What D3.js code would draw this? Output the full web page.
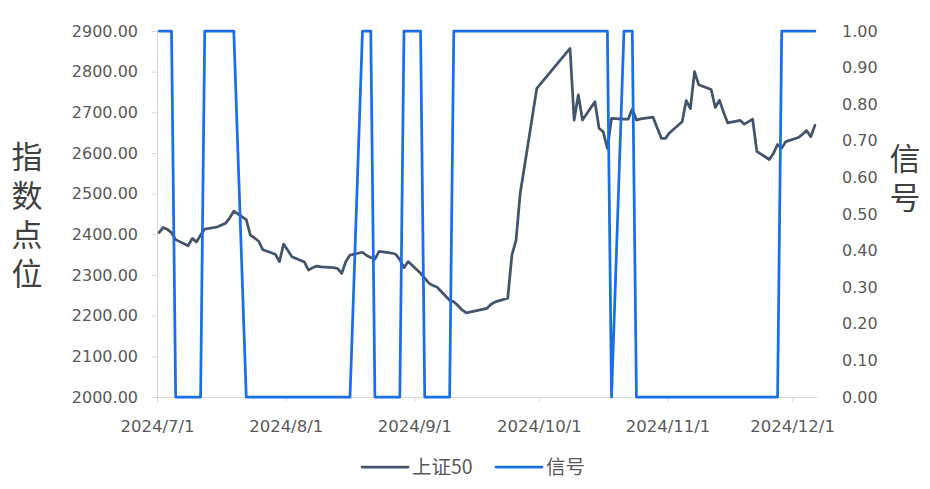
<!DOCTYPE html>
<html>
<head>
<meta charset="utf-8">
<script src="https://cdn.jsdelivr.net/npm/d3@7/dist/d3.min.js"></script>
<style>
  html, body { margin: 0; padding: 0; background: #ffffff; }
  svg { display: block; }
</style>
</head>
<body>
<svg id="chart" width="930" height="489"></svg>
<script>
// ---------- DATA ----------
const tradeDates = [
  "2024-07-01","2024-07-02","2024-07-03","2024-07-04","2024-07-05",
  "2024-07-08","2024-07-09","2024-07-10","2024-07-11","2024-07-12",
  "2024-07-15","2024-07-16","2024-07-17","2024-07-18","2024-07-19",
  "2024-07-22","2024-07-23","2024-07-24","2024-07-25","2024-07-26",
  "2024-07-29","2024-07-30","2024-07-31","2024-08-01","2024-08-02",
  "2024-08-05","2024-08-06","2024-08-07","2024-08-08","2024-08-09",
  "2024-08-12","2024-08-13","2024-08-14","2024-08-15","2024-08-16",
  "2024-08-19","2024-08-20","2024-08-21","2024-08-22","2024-08-23",
  "2024-08-26","2024-08-27","2024-08-28","2024-08-29","2024-08-30",
  "2024-09-02","2024-09-03","2024-09-04","2024-09-05","2024-09-06",
  "2024-09-09","2024-09-10","2024-09-11","2024-09-12","2024-09-13",
  "2024-09-18","2024-09-19","2024-09-20",
  "2024-09-23","2024-09-24","2024-09-25","2024-09-26","2024-09-27",
  "2024-09-30",
  "2024-10-08","2024-10-09","2024-10-10","2024-10-11",
  "2024-10-14","2024-10-15","2024-10-16","2024-10-17","2024-10-18",
  "2024-10-21","2024-10-22","2024-10-23","2024-10-24","2024-10-25",
  "2024-10-28","2024-10-29","2024-10-30","2024-10-31","2024-11-01",
  "2024-11-04","2024-11-05","2024-11-06","2024-11-07","2024-11-08",
  "2024-11-11","2024-11-12","2024-11-13","2024-11-14","2024-11-15",
  "2024-11-18","2024-11-19","2024-11-20","2024-11-21","2024-11-22",
  "2024-11-25","2024-11-26","2024-11-27","2024-11-28","2024-11-29",
  "2024-12-02","2024-12-03","2024-12-04","2024-12-05","2024-12-06"
];

const sz50Values = [
  2404, 2417, 2412, 2404, 2387,
  2372, 2390, 2381, 2398, 2413,
  2418, 2423, 2427, 2440, 2457,
  2436, 2398, 2391, 2383, 2362,
  2351, 2333, 2376, 2361, 2345,
  2332, 2312, 2318, 2322, 2320,
  2318, 2316, 2304, 2333, 2349,
  2356, 2348, 2343, 2339, 2358,
  2354, 2351, 2338, 2318, 2333,
  2304, 2292, 2280, 2274, 2270,
  2238, 2234, 2225, 2214, 2207,
  2218, 2228, 2234,
  2243, 2349, 2386, 2501, 2565,
  2759,
  2857, 2681, 2743, 2681,
  2726, 2661, 2652, 2611, 2685,
  2683, 2683, 2708, 2681, 2684,
  2688, 2662, 2636, 2636, 2650,
  2677, 2729, 2709, 2800, 2768,
  2756, 2712, 2730, 2700, 2674,
  2680, 2671, 2677, 2683, 2604,
  2584, 2599, 2621, 2612, 2628,
  2638, 2646, 2655, 2640, 2668
];

const signalValues = [
  1, 1, 1, 1, 0,
  0, 0, 0, 0, 1,
  1, 1, 1, 1, 1,
  0, 0, 0, 0, 0,
  0, 0, 0, 0, 0,
  0, 0, 0, 0, 0,
  0, 0, 0, 0, 0,
  1, 1, 1, 0, 0,
  0, 0, 0, 1, 1,
  1, 0, 0, 0, 0,
  0, 1, 1, 1, 1,
  1, 1, 1,
  1, 1, 1, 1, 1,
  1,
  1, 1, 1, 1,
  1, 1, 1, 1, 0,
  1, 1, 1, 0, 0,
  0, 0, 0, 0, 0,
  0, 0, 0, 0, 0,
  0, 0, 0, 0, 0,
  0, 0, 0, 0, 0,
  0, 0, 0, 1, 1,
  1, 1, 1, 1, 1
];

const leftTicks = [2000, 2100, 2200, 2300, 2400, 2500, 2600, 2700, 2800, 2900];
const rightTicks = [0, 0.1, 0.2, 0.3, 0.4, 0.5, 0.6, 0.7, 0.8, 0.9, 1.0];
const monthTicks = ["2024-07-01","2024-08-01","2024-09-01","2024-10-01","2024-11-01","2024-12-01"];
const seriesNames = ["上证50", "信号"];
const leftTitle = "指数点位";
const rightTitle = "信号";

// ---------- CHART ----------
const svg = d3.select("#chart");
const parse = d3.timeParse("%Y-%m-%d");
const dayMid = s => { const d = parse(s); return new Date(d.getTime() + 12 * 3600 * 1000); };

const plotLeft = 157, plotRight = 817, plotTop = 31, plotBottom = 397;

const x = d3.scaleTime()
  .domain([parse("2024-07-01"), parse("2024-12-07")])
  .range([plotLeft, plotRight]);
const yL = d3.scaleLinear().domain([2000, 2900]).range([plotBottom, plotTop]);
const yR = d3.scaleLinear().domain([0, 1]).range([plotBottom, plotTop]);

const numFont = "'DejaVu Sans', 'Liberation Sans', sans-serif";
const cjkFont = "'Noto Sans CJK SC', 'Noto Sans', sans-serif";
const tickColor = "#595959";
const axisColor = "#D9D9D9";
const darkColor = "#44546A";
const blueColor = "#1A6EE6";

// Left axis
const leftAxis = d3.axisLeft(yL).tickValues(leftTicks).tickFormat(d3.format(".2f")).tickSize(5).tickPadding(14);
const gL = svg.append("g").attr("transform", `translate(${plotLeft},0)`).call(leftAxis);
gL.select(".domain").attr("stroke", axisColor).attr("stroke-width", 1);
gL.selectAll(".tick line").attr("stroke", axisColor);
gL.selectAll(".tick text").attr("fill", tickColor).style("font-family", numFont).style("font-size", "16px");

// Right axis (labels only)
const rightAxis = d3.axisRight(yR).tickValues(rightTicks).tickFormat(d3.format(".2f")).tickSize(0).tickPadding(25);
const gR = svg.append("g").attr("transform", `translate(${plotRight},0)`).call(rightAxis);
gR.select(".domain").remove();
gR.selectAll(".tick text").attr("fill", tickColor).style("font-family", numFont).style("font-size", "16px");

// Bottom axis
const bottomAxis = d3.axisBottom(x)
  .tickValues(monthTicks.map(parse))
  .tickFormat(d => `${d.getFullYear()}/${d.getMonth() + 1}/${d.getDate()}`)
  .tickSize(5).tickSizeOuter(0).tickPadding(18);
const gB = svg.append("g").attr("transform", `translate(0,${plotBottom})`).call(bottomAxis);
gB.select(".domain").attr("stroke", axisColor).attr("stroke-width", 1);
gB.selectAll(".tick line").attr("stroke", axisColor);
gB.selectAll(".tick text").attr("fill", tickColor).style("font-family", numFont).style("font-size", "16.5px");

// Lines
const sz50Data = tradeDates.map((d, i) => ({ date: dayMid(d), v: sz50Values[i] }));
const sigData = tradeDates.map((d, i) => ({ date: dayMid(d), v: signalValues[i] }));

svg.append("path")
  .datum(sz50Data)
  .attr("fill", "none")
  .attr("stroke", darkColor)
  .attr("stroke-width", 2.75)
  .attr("stroke-linejoin", "round")
  .attr("stroke-linecap", "round")
  .attr("d", d3.line().x(d => x(d.date)).y(d => yL(d.v)));

svg.append("path")
  .datum(sigData)
  .attr("fill", "none")
  .attr("stroke", blueColor)
  .attr("stroke-width", 2.75)
  .attr("stroke-linejoin", "round")
  .attr("stroke-linecap", "round")
  .attr("d", d3.line().x(d => x(d.date)).y(d => yR(d.v)));

// Axis titles (vertical text)
const titleColor = "#404040";
svg.append("text")
  .attr("x", 27).attr("y", 141)
  .attr("fill", titleColor)
  .style("font-family", cjkFont).style("font-size", "31px")
  .style("writing-mode", "vertical-rl").style("text-orientation", "upright")
  .style("letter-spacing", "8px")
  .text(leftTitle);
svg.append("text")
  .attr("x", 905).attr("y", 143)
  .attr("fill", titleColor)
  .style("font-family", cjkFont).style("font-size", "31px")
  .style("writing-mode", "vertical-rl").style("text-orientation", "upright")
  .style("letter-spacing", "8px")
  .text(rightTitle);

// Legend
const legend = svg.append("g");
const legendItems = [
  { name: seriesNames[0], color: darkColor, x0: 362 },
  { name: seriesNames[1], color: blueColor, x0: 496 }
];
legendItems.forEach(it => {
  legend.append("line").attr("x1", it.x0).attr("x2", it.x0 + 46).attr("y1", 467).attr("y2", 467)
    .attr("stroke", it.color).attr("stroke-width", 2.75).attr("stroke-linecap", "round");
  legend.append("text").attr("x", it.x0 + 50).attr("y", 467).attr("dy", "0.35em")
    .attr("fill", tickColor).style("font-family", cjkFont).style("font-size", "19.5px").text(it.name);
});
</script>
</body>
</html>
